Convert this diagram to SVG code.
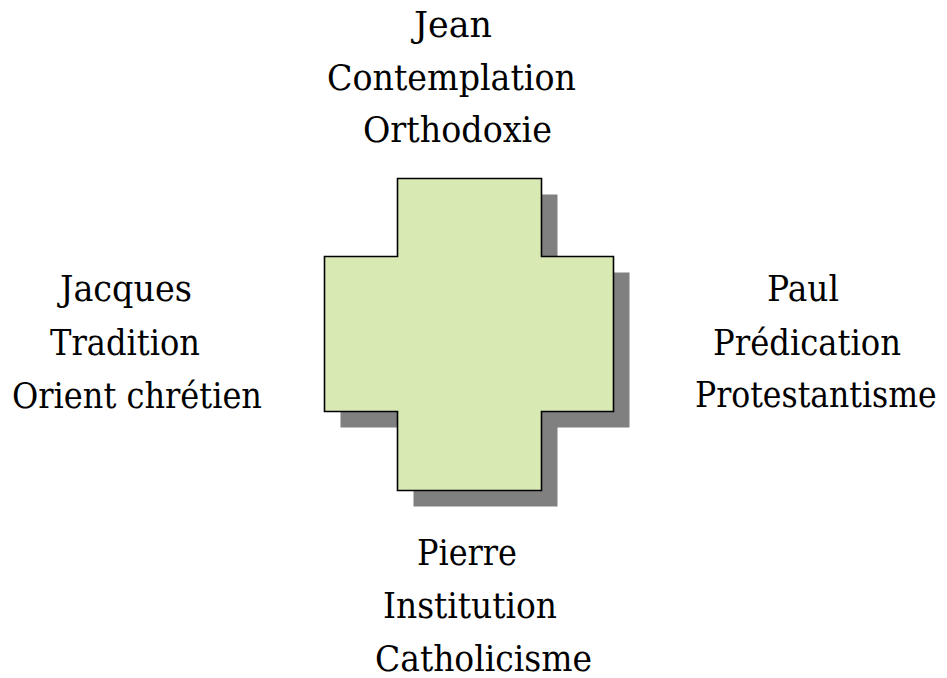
<svg xmlns="http://www.w3.org/2000/svg" xmlns:xlink="http://www.w3.org/1999/xlink" width="947" height="678" viewBox="0 0 947 678">
<style>
  text { font-family: "DejaVu Serif", "Liberation Serif", serif; font-size: 35px; fill: #000; }
  .shadow { fill: #808080; stroke: none; }
  .cross { fill: #D8E9B4; stroke: #000; stroke-width: 1.6; stroke-linejoin: miter; }
</style>
<defs>
  <path id="crossShape" d="M397.5,178.5 H541.5 V256.5 H613.5 V411.5 H541.5 V490.5 H397.5 V411.5 H324.5 V256.5 H397.5 Z"/>
</defs>
<rect width="947" height="678" fill="#fff"/>
<g id="cross">
  <use xlink:href="#crossShape" class="shadow" transform="translate(16,16)"/>
  <use xlink:href="#crossShape" class="cross"/>
</g>
<g id="top">
  <text x="414" y="37" textLength="78" lengthAdjust="spacingAndGlyphs">Jean</text>
  <text x="327" y="90" textLength="249" lengthAdjust="spacingAndGlyphs">Contemplation</text>
  <text x="363" y="142" textLength="189" lengthAdjust="spacingAndGlyphs">Orthodoxie</text>
</g>
<g id="left">
  <text x="60" y="301" textLength="132" lengthAdjust="spacingAndGlyphs">Jacques</text>
  <text x="50" y="355" textLength="150" lengthAdjust="spacingAndGlyphs">Tradition</text>
  <text x="12" y="408" textLength="250" lengthAdjust="spacingAndGlyphs">Orient chrétien</text>
</g>
<g id="right">
  <text x="767" y="301" textLength="72" lengthAdjust="spacingAndGlyphs">Paul</text>
  <text x="713" y="355" textLength="188" lengthAdjust="spacingAndGlyphs">Prédication</text>
  <text x="0" y="0" transform="translate(695,407) scale(0.9,1)">Protestantisme</text>
</g>
<g id="bottom">
  <text x="417" y="565" textLength="100" lengthAdjust="spacingAndGlyphs">Pierre</text>
  <text x="383" y="618" textLength="174" lengthAdjust="spacingAndGlyphs">Institution</text>
  <text x="375" y="671" textLength="217" lengthAdjust="spacingAndGlyphs">Catholicisme</text>
</g>
</svg>
